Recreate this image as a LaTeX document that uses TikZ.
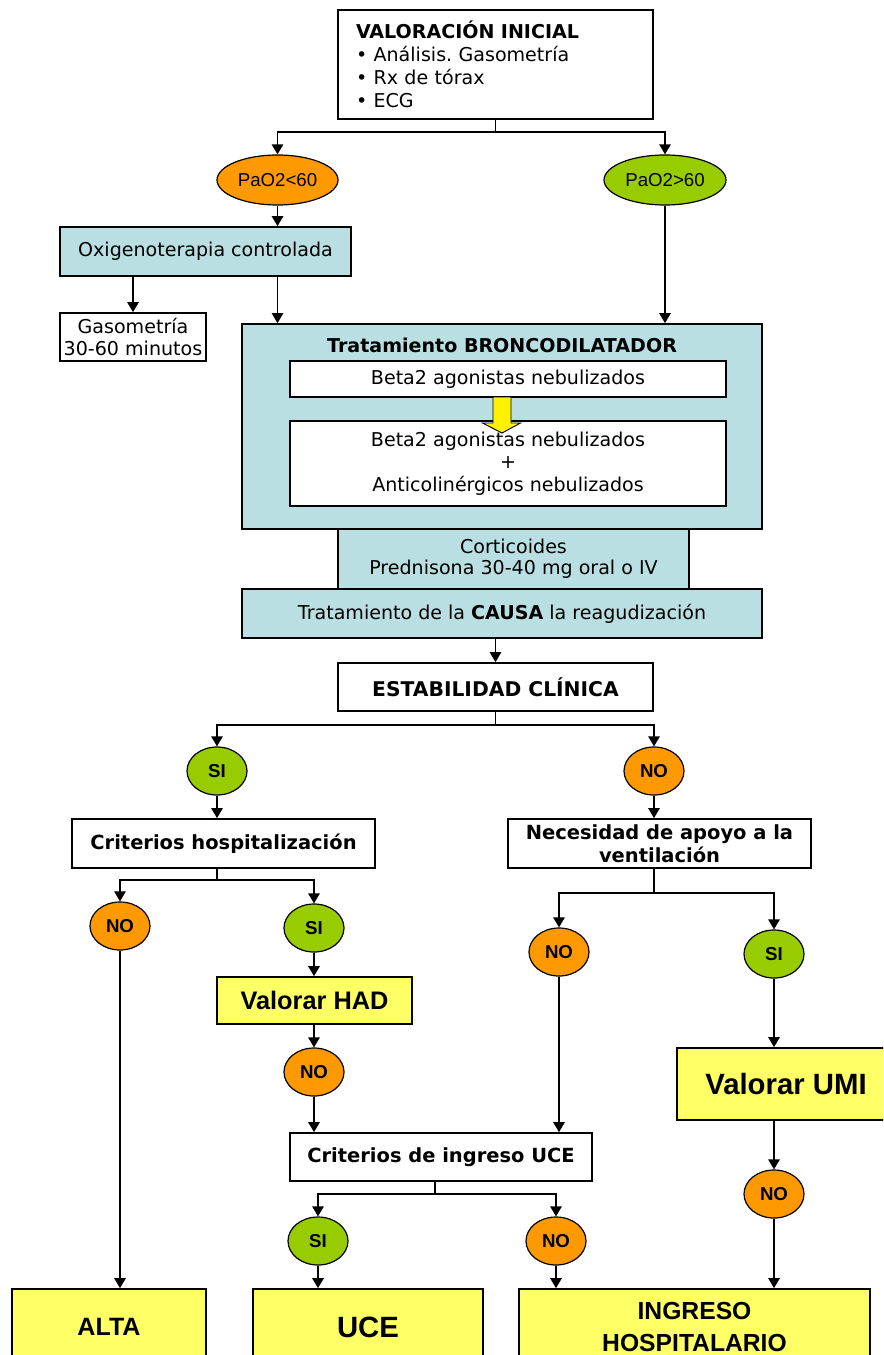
\documentclass[tikz,border=0pt]{standalone}
\usepackage{fontspec}
\setmainfont{DejaVu Sans}
\newfontfamily\arialfont{Liberation Sans}
\usepackage{tikz}
\usetikzlibrary{arrows.meta, positioning, shapes.geometric}
\definecolor{azulclaro}{RGB}{185,223,227}
\definecolor{naranja}{RGB}{255,153,0}
\definecolor{verde}{RGB}{153,204,0}
\definecolor{amarillo}{RGB}{255,255,102}

\begin{document}
\begin{tikzpicture}[x=0.75pt, y=-0.75pt,
                    caja/.style={
                        draw,
                        line width=1.25pt,
                        fill=white,
                        inner sep=2pt,
                        align=center,
                        font=\fontsize{14.3}{17}\selectfont
                    },
                    cajanegrita/.style={
                        caja,
                        font=\bfseries\fontsize{14.6}{17}\selectfont
                    },
                    cajaazul/.style={
                        caja,
                        fill=azulclaro
                    },
                    cajaamarilla/.style={
                        caja,
                        fill=amarillo,
                        font=\arialfont\bfseries\fontsize{19}{22}\selectfont
                    },
                    decision/.style={
                        ellipse,
                        draw,
                        line width=0.9pt,
                        inner sep=0pt,
                        minimum width=45pt,
                        minimum height=36pt,
                        font=\arialfont\bfseries\fontsize{14}{16}\selectfont
                    },
                    flecha/.style={
                        -{Triangle[width=8.5pt,length=7.5pt]},
                        line width=1.25pt
                    },
                    flechaamarilla/.style={
                        draw,
                        line width=0.7pt,
                        fill=yellow
                    }
                ]

                \useasboundingbox (0,0) rectangle (883,1355);
                \clip (0,0) rectangle (883,1355);

                % Valoracion inicial
                \node[caja, align=left, text width=209.25pt, inner xsep=13.5pt,
                      minimum height=81.75pt, font=\fontsize{14.3}{17.3}\selectfont]
                      (valoracion) at (495.5,64.5)
                      {\textbf{VALORACIÓN INICIAL}\\• Análisis.\ Gasometría\\• Rx de tórax\\• ECG};
                \node[decision, fill=naranja, minimum width=90.75pt, minimum height=37.5pt,
                      font=\arialfont\fontsize{14}{16}\selectfont] (pao2bajo) at (277.5,180) {PaO2<60};
                \node[decision, fill=verde, minimum width=91.5pt, minimum height=37.5pt,
                      font=\arialfont\fontsize{14}{16}\selectfont] (pao2alto) at (665,180) {PaO2>60};

                % Oxigenoterapia
                \node[cajaazul, minimum width=218.25pt, minimum height=36.75pt] (oxigeno) at (205.5,251.5) {Oxigenoterapia controlada};
                \node[caja, minimum width=109.5pt, minimum height=36pt, font=\fontsize{14.3}{16}\selectfont] (gaso) at (133,337) {Gasometría\\30-60 minutos};

                % Tratamiento broncodilatador
                \node[cajaazul, minimum width=390pt, minimum height=153.75pt] (tratamiento) at (502,426.5) {};
                \node[font=\bfseries\fontsize{14.3}{17}\selectfont] (tittrat) at (502,345) {Tratamiento BRONCODILATADOR};
                \node[caja, minimum width=327pt, minimum height=27pt] (beta) at (508,379) {Beta2 agonistas nebulizados};
                \node[caja, minimum width=327pt, minimum height=63.75pt] (betaanti) at (508,463.5)
                      {Beta2 agonistas nebulizados\\+\\Anticolinérgicos nebulizados};
                \draw[flechaamarilla] (493,397) -- ++(18,0) -- ++(0,26) -- ++(9.5,0) -- (502,433)
                      -- (482.5,423) -- ++(10.5,0) -- cycle;
                \node[cajaazul, minimum width=263.25pt, minimum height=45pt, font=\fontsize{14.3}{15.5}\selectfont]
                      (cortic) at (513.5,559) {Corticoides\\Prednisona 30-40 mg oral o IV};
                \node[cajaazul, minimum width=390pt, minimum height=36.75pt] (causa) at (502,613.5)
                      {Tratamiento de la \textbf{CAUSA} la reagudización};

                % Estabilidad clinica
                \node[cajanegrita, minimum width=236.25pt, minimum height=36pt,
                      font=\bfseries\fontsize{15.2}{17}\selectfont] (estab) at (495.5,687) {ESTABILIDAD CLÍNICA};
                \node[decision, fill=verde] (si1) at (217,771) {SI};
                \node[decision, fill=naranja] (no1) at (654,771) {NO};
                \node[cajanegrita, minimum width=227.25pt, minimum height=36.75pt] (crit) at (223.5,843.5) {Criterios hospitalización};
                \node[cajanegrita, minimum width=227.25pt, minimum height=36.75pt, inner sep=1pt] (nec) at (659.5,843.5)
                      {Necesidad de apoyo a la\\ventilación};

                % Rama izquierda
                \node[decision, fill=naranja] (no2) at (120,926) {NO};
                \node[decision, fill=verde] (si2) at (314,928) {SI};
                \node[cajaamarilla, minimum width=146.25pt, minimum height=35.25pt] (had) at (314.5,1000.5) {Valorar HAD};
                \node[decision, fill=naranja] (no4) at (314,1072) {NO};
                \node[cajanegrita, minimum width=226.5pt, minimum height=36pt] (critUCE) at (441,1157) {Criterios de ingreso UCE};
                \node[decision, fill=verde] (si5) at (318,1241) {SI};
                \node[decision, fill=naranja] (no5) at (556,1241) {NO};

                % Rama derecha
                \node[decision, fill=naranja] (no3) at (559,952) {NO};
                \node[decision, fill=verde] (si3) at (774,954) {SI};
                \node[cajaamarilla, minimum width=163.5pt, minimum height=54pt,
                      font=\arialfont\bfseries\fontsize{22}{26}\selectfont] (umi) at (786,1084) {Valorar UMI};
                \node[decision, fill=naranja] (no6) at (774,1194) {NO};

                % Destinos finales
                \node[cajaamarilla, minimum width=145.5pt, minimum height=57pt,
                      font=\arialfont\bfseries\fontsize{18.8}{22}\selectfont] (alta) at (109,1327) {ALTA};
                \node[cajaamarilla, minimum width=172.5pt, minimum height=57pt,
                      font=\arialfont\bfseries\fontsize{22}{26}\selectfont] (uce) at (368,1327) {UCE};
                \node[cajaamarilla, minimum width=263.25pt, minimum height=57pt,
                      font=\arialfont\bfseries\fontsize{18.5}{24.5}\selectfont] (ingreso) at (694.5,1327) {INGRESO\\HOSPITALARIO};

                % Flechas
                \draw[flecha] (valoracion.south) -- ++(0,12) -| (pao2bajo.north);
                \draw[flecha] (valoracion.south) -- ++(0,12) -| (pao2alto.north);
                \draw[flecha] (pao2bajo.south) -- (pao2bajo.south |- oxigeno.north);
                \draw[flecha] (gaso.north |- oxigeno.south) -- (gaso.north);
                \draw[flecha] (pao2bajo.south |- oxigeno.south) -- (pao2bajo.south |- tratamiento.north);
                \draw[flecha] (pao2alto.south) -- (pao2alto.south |- tratamiento.north);
                \draw[flecha] (estab.north |- causa.south) -- (estab.north);
                \draw[flecha] (estab.south) -- ++(0,13) -| (si1.north);
                \draw[flecha] (estab.south) -- ++(0,13) -| (no1.north);
                \draw[flecha] (si1.south) -- (si1.south |- crit.north);
                \draw[flecha] (no1.south) -- (no1.south |- nec.north);
                \draw[flecha] (si1.south |- crit.south) -- ++(0,11) -| (no2.north);
                \draw[flecha] (si1.south |- crit.south) -- ++(0,11) -| (si2.north);
                \draw[flecha] (no1.south |- nec.south) -- ++(0,24) -| (no3.north);
                \draw[flecha] (no1.south |- nec.south) -- ++(0,24) -| (si3.north);
                \draw[flecha] (si2.south) -- (si2.south |- had.north);
                \draw[flecha] (si2.south |- had.south) -- (no4.north);
                \draw[flecha] (no4.south) -- (no4.south |- critUCE.north);
                \draw[flecha] (no3.south) -- (no3.south |- critUCE.north);
                \draw[flecha] (si3.south) -- (si3.south |- umi.north);
                \draw[flecha] (si3.south |- umi.south) -- (no6.north);
                \draw[flecha] ([xshift=-4.5pt]critUCE.south) -- ++(0,12) -| (si5.north);
                \draw[flecha] ([xshift=-4.5pt]critUCE.south) -- ++(0,12) -| (no5.north);
                \draw[flecha] (no2.south) -- (no2.south |- alta.north);
                \draw[flecha] (si5.south) -- (si5.south |- uce.north);
                \draw[flecha] (no5.south) -- (no5.south |- ingreso.north);
                \draw[flecha] (no6.south) -- (no6.south |- ingreso.north);

            \end{tikzpicture}
\end{document}
